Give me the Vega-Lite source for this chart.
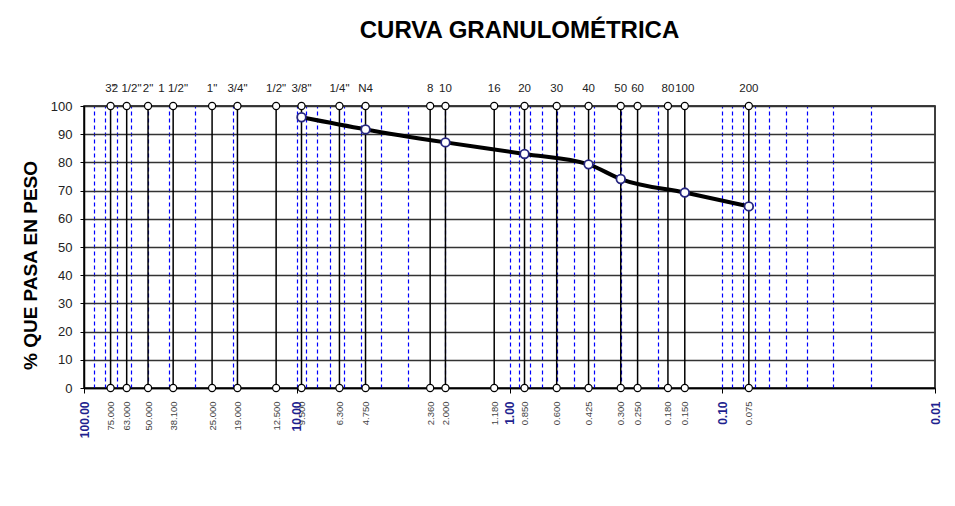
{
  "$schema": "https://vega.github.io/schema/vega-lite/v6.json",
  "width": 851,
  "height": 282,
  "autosize": {"type": "none"},
  "padding": {"left": 84, "top": 106, "right": 20, "bottom": 118},
  "background": "white",
  "config": {
    "font": "Liberation Sans",
    "view": {"stroke": "#000", "strokeWidth": 1.5},
    "axisY": {
      "values": [0, 10, 20, 30, 40, 50, 60, 70, 80, 90, 100],
      "tickCount": 11,
      "grid": true,
      "gridColor": "#333",
      "gridWidth": 1.5,
      "gridOpacity": 1,
      "domainColor": "#000",
      "domainWidth": 1.5,
      "tickColor": "#000",
      "tickSize": 4,
      "labelFontSize": 13,
      "labelColor": "#222",
      "labelPadding": 8,
      "labelOverlap": false,
      "titleFontSize": 19,
      "titleFontWeight": "bold",
      "titleColor": "#000",
      "titleAngle": 270,
      "titleX": -54,
      "titleY": 159,
      "titleBaseline": "middle",
      "titleAlign": "center"
    }
  },
  "title": {
    "text": "CURVA GRANULOMÉTRICA",
    "fontSize": 24,
    "fontWeight": "bold",
    "color": "#000",
    "anchor": "middle",
    "frame": "group",
    "dx": 10,
    "offset": 40
  },
  "datasets": {
    "tamices": [
      {"tamiz": "3\"", "abertura": 75},
      {"tamiz": "2 1/2\"", "abertura": 63},
      {"tamiz": "2\"", "abertura": 50},
      {"tamiz": "1 1/2\"", "abertura": 38.1},
      {"tamiz": "1\"", "abertura": 25},
      {"tamiz": "3/4\"", "abertura": 19},
      {"tamiz": "1/2\"", "abertura": 12.5},
      {"tamiz": "3/8\"", "abertura": 9.5},
      {"tamiz": "1/4\"", "abertura": 6.3},
      {"tamiz": "N4", "abertura": 4.75},
      {"tamiz": "8", "abertura": 2.36},
      {"tamiz": "10", "abertura": 2.0},
      {"tamiz": "16", "abertura": 1.18},
      {"tamiz": "20", "abertura": 0.85},
      {"tamiz": "30", "abertura": 0.6},
      {"tamiz": "40", "abertura": 0.425},
      {"tamiz": "50", "abertura": 0.3},
      {"tamiz": "60", "abertura": 0.25},
      {"tamiz": "80", "abertura": 0.18},
      {"tamiz": "100", "abertura": 0.15},
      {"tamiz": "200", "abertura": 0.075}
    ],
    "curva": [
      {"abertura": 9.5, "pasa": 96.0},
      {"abertura": 4.75, "pasa": 91.7},
      {"abertura": 2.0, "pasa": 87.1},
      {"abertura": 0.85, "pasa": 83.0},
      {"abertura": 0.425, "pasa": 79.3},
      {"abertura": 0.3, "pasa": 74.1},
      {"abertura": 0.15, "pasa": 69.3},
      {"abertura": 0.075, "pasa": 64.4}
    ]
  },
  "layer": [
    {
      "data": {"name": "curva"},
      "mark": {"type": "line", "color": "#000", "strokeWidth": 4, "interpolate": "monotone"},
      "encoding": {
        "x": {
          "field": "abertura",
          "type": "quantitative",
          "scale": {"type": "log", "domain": [0.01, 100], "reverse": true},
          "axis": {
            "orient": "top",
            "values": [90, 80, 70, 60, 50, 40, 30, 20, 10, 9, 8, 7, 6, 5, 4, 3, 2, 1, 0.9, 0.8, 0.7, 0.6, 0.5, 0.4, 0.3, 0.2, 0.1, 0.09, 0.08, 0.07, 0.06, 0.05, 0.04, 0.03, 0.02],
            "grid": true,
            "gridColor": "#0000ff",
            "gridDash": [4, 3],
            "gridWidth": 1.2,
            "gridOpacity": 1,
            "labels": false,
            "ticks": false,
            "domain": false,
            "title": null
          }
        },
        "y": {
          "field": "pasa",
          "type": "quantitative",
          "scale": {"domain": [0, 100], "nice": false},
          "axis": {"title": "% QUE PASA EN PESO", "values": [0, 10, 20, 30, 40, 50, 60, 70, 80, 90, 100]}
        }
      }
    },
    {
      "data": {"name": "tamices"},
      "mark": {"type": "rule", "color": "#000", "strokeWidth": 1.5},
      "encoding": {
        "x": {"field": "abertura", "type": "quantitative", "axis": null},
        "y": {"datum": 0, "type": "quantitative", "axis": {"title": "% QUE PASA EN PESO", "values": [0, 10, 20, 30, 40, 50, 60, 70, 80, 90, 100]}},
        "y2": {"datum": 100}
      }
    },
    {
      "data": {"name": "tamices"},
      "mark": {"type": "point", "shape": "circle", "filled": true, "fill": "white", "stroke": "#000", "strokeWidth": 1.2, "size": 50, "opacity": 1},
      "encoding": {
        "x": {
          "field": "abertura",
          "type": "quantitative",
          "axis": {
            "orient": "bottom",
            "values": [100, 75, 63, 50, 38.1, 25, 19, 12.5, 10, 9.5, 6.3, 4.75, 2.36, 2, 1.18, 1, 0.85, 0.6, 0.425, 0.3, 0.25, 0.18, 0.15, 0.1, 0.075, 0.01],
            "labelAngle": 270,
            "labelOverlap": false,
            "labelFlush": false,
            "labelPadding": 8,
            "labelExpr": "abs(log(datum.value)/LN10 - round(log(datum.value)/LN10)) < 0.001 ? format(datum.value, '.2f') : format(datum.value, '.3f')",
            "labelColor": {"condition": {"test": "abs(log(datum.value)/LN10 - round(log(datum.value)/LN10)) < 0.001", "value": "#1f1f8f"}, "value": "#444"},
            "labelFontWeight": {"condition": {"test": "abs(log(datum.value)/LN10 - round(log(datum.value)/LN10)) < 0.001", "value": "bold"}, "value": "normal"},
            "labelFontSize": {"condition": {"test": "abs(log(datum.value)/LN10 - round(log(datum.value)/LN10)) < 0.001", "value": 12}, "value": 9.5},
            "tickColor": {"condition": {"test": "abs(log(datum.value)/LN10 - round(log(datum.value)/LN10)) < 0.001", "value": "#000"}, "value": "transparent"},
            "tickSize": 5,
            "domain": true,
            "domainColor": "#000",
            "domainWidth": 1.5,
            "grid": false,
            "title": null
          }
        },
        "y": {"datum": 0, "type": "quantitative", "axis": {"title": "% QUE PASA EN PESO", "values": [0, 10, 20, 30, 40, 50, 60, 70, 80, 90, 100]}}
      }
    },
    {
      "data": {"name": "tamices"},
      "mark": {"type": "point", "shape": "circle", "filled": true, "fill": "white", "stroke": "#000", "strokeWidth": 1.2, "size": 50, "opacity": 1},
      "encoding": {
        "x": {"field": "abertura", "type": "quantitative", "axis": null},
        "y": {"datum": 100, "type": "quantitative", "axis": {"title": "% QUE PASA EN PESO", "values": [0, 10, 20, 30, 40, 50, 60, 70, 80, 90, 100]}}
      }
    },
    {
      "data": {"name": "tamices"},
      "mark": {"type": "text", "baseline": "alphabetic", "align": "center", "dy": -14, "fontSize": 11.5, "color": "#222"},
      "encoding": {
        "x": {"field": "abertura", "type": "quantitative", "axis": null},
        "y": {"datum": 100, "type": "quantitative", "axis": {"title": "% QUE PASA EN PESO", "values": [0, 10, 20, 30, 40, 50, 60, 70, 80, 90, 100]}},
        "text": {"field": "tamiz"}
      }
    },
    {
      "data": {"name": "curva"},
      "mark": {"type": "point", "shape": "circle", "filled": true, "fill": "white", "stroke": "#262680", "strokeWidth": 1.8, "size": 75, "opacity": 1},
      "encoding": {
        "x": {"field": "abertura", "type": "quantitative", "axis": null},
        "y": {"field": "pasa", "type": "quantitative", "axis": {"title": "% QUE PASA EN PESO", "values": [0, 10, 20, 30, 40, 50, 60, 70, 80, 90, 100]}}
      }
    }
  ],
  "resolve": {"axis": {"x": "independent", "y": "shared"}}
}
